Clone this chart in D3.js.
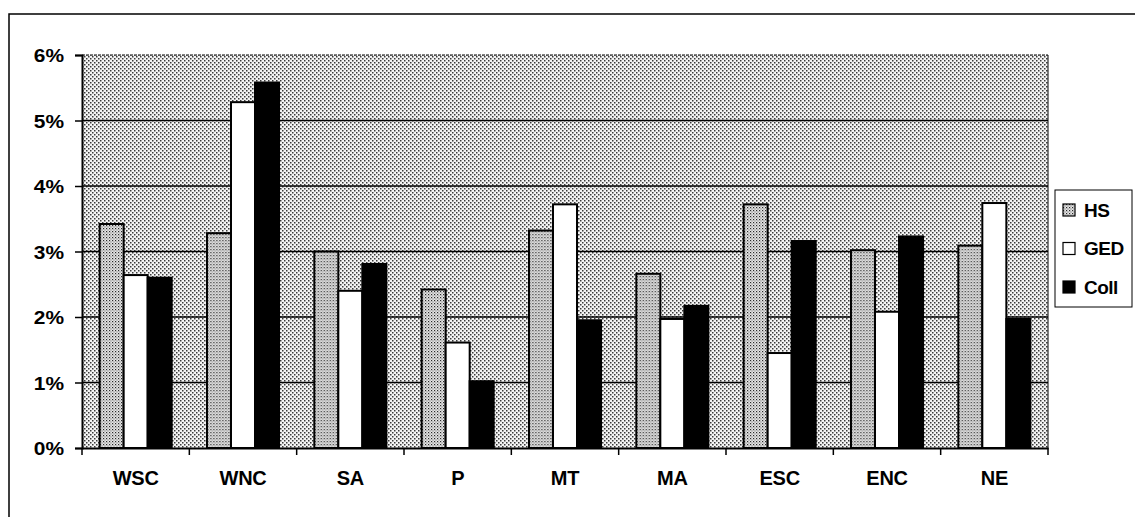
<!DOCTYPE html>
<html>
<head>
<meta charset="utf-8">
<script src="https://cdn.jsdelivr.net/npm/d3@7"></script>
<style>
  html, body { margin: 0; padding: 0; background: #fff; }
  svg { display: block; }
  text { font-family: "Liberation Sans", Arial, sans-serif; fill: #000; }
</style>
</head>
<body>
<svg id="chart" width="1135" height="517"></svg>
<script>
const categories = ["WSC", "WNC", "SA", "P", "MT", "MA", "ESC", "ENC", "NE"];
const seriesNames = ["HS", "GED", "Coll"];
const hsValues   = [3.42, 3.28, 3.00, 2.42, 3.32, 2.66, 3.72, 3.02, 3.09];
const gedValues  = [2.64, 5.28, 2.40, 1.61, 3.72, 1.97, 1.45, 2.08, 3.74];
const collValues = [2.60, 5.58, 2.81, 1.02, 1.95, 2.17, 3.16, 3.23, 1.97];
const yTicks = [0, 1, 2, 3, 4, 5, 6];
const yTickLabels = ["0%", "1%", "2%", "3%", "4%", "5%", "6%"];

(function () {
const seriesValues = [hsValues, gedValues, collValues];
const svg = d3.select("#chart");
const FONT = "Liberation Sans, Arial, sans-serif";

// patterns
const defs = svg.append("defs");
const bgPat = defs.append("pattern").attr("id", "bgPat").attr("patternUnits", "userSpaceOnUse")
  .attr("width", 4).attr("height", 4);
bgPat.append("rect").attr("width", 4).attr("height", 4).attr("fill", "#f4f4f4");
bgPat.append("rect").attr("x", 0).attr("y", 0).attr("width", 1.5).attr("height", 1.5).attr("fill", "#3a3a3a");
bgPat.append("rect").attr("x", 2).attr("y", 2).attr("width", 1.5).attr("height", 1.5).attr("fill", "#3a3a3a");

const hsPat = defs.append("pattern").attr("id", "hsPat").attr("patternUnits", "userSpaceOnUse")
  .attr("width", 3).attr("height", 3);
hsPat.append("rect").attr("width", 3).attr("height", 3).attr("fill", "#e6e6e6");
hsPat.append("rect").attr("x", 0).attr("y", 0).attr("width", 1.2).attr("height", 1.2).attr("fill", "#2a2a2a");
hsPat.append("rect").attr("x", 1.5).attr("y", 1.5).attr("width", 1).attr("height", 1).attr("fill", "#555");

const fills = { HS: "url(#hsPat)", GED: "#ffffff", Coll: "#000000" };

// outer frame
svg.append("rect").attr("x", 9).attr("y", 14).attr("width", 1140).attr("height", 520)
  .attr("fill", "none").attr("stroke", "#000").attr("stroke-width", 1.5);

const pLeft = 82, pRight = 1048, pTop = 55, pBottom = 448;

const x0 = d3.scaleBand().domain(categories).range([pLeft, pRight]).padding(0);
const x1 = d3.scaleBand().domain(seriesNames).range([0, x0.bandwidth()]).paddingInner(0).paddingOuter(0.735);
const y = d3.scaleLinear().domain([0, 6]).range([pBottom, pTop]);

// plot background
svg.append("rect").attr("x", pLeft).attr("y", pTop).attr("width", pRight - pLeft).attr("height", pBottom - pTop)
  .attr("fill", "url(#bgPat)");
svg.append("line").attr("x1", pLeft).attr("x2", pRight).attr("y1", pTop).attr("y2", pTop)
  .attr("stroke", "#000").attr("stroke-width", 1).attr("stroke-dasharray", "3,1");
svg.append("line").attr("x1", pRight).attr("x2", pRight).attr("y1", pTop).attr("y2", pBottom)
  .attr("stroke", "#000").attr("stroke-width", 1);

// gridlines
svg.append("g").selectAll("line").data(yTicks.filter(d => d > 0 && d < 6)).join("line")
  .attr("x1", pLeft).attr("x2", pRight)
  .attr("y1", d => y(d)).attr("y2", d => y(d))
  .attr("stroke", "#000").attr("stroke-width", 1.6);

// bars
const groups = svg.append("g").selectAll("g").data(categories).join("g")
  .attr("transform", d => `translate(${x0(d)},0)`);
groups.selectAll("rect").data((d, i) => seriesNames.map((s, j) => ({ s, v: seriesValues[j][i] }))).join("rect")
  .attr("x", d => x1(d.s))
  .attr("width", x1.bandwidth())
  .attr("y", d => y(d.v))
  .attr("height", d => y(0) - y(d.v))
  .attr("fill", d => fills[d.s])
  .attr("stroke", "#000").attr("stroke-width", 2);

// y axis
const ySx = 1.1;
const yAxis = svg.append("g").attr("transform", `translate(${pLeft},0)`)
  .call(d3.axisLeft(y).tickValues(yTicks).tickFormat((d, i) => yTickLabels[i]).tickSize(7).tickPadding(6));
yAxis.select(".domain").attr("stroke-width", 2);
yAxis.selectAll(".tick line").attr("stroke-width", 1.5);
yAxis.selectAll("text")
  .attr("font-size", 19).attr("font-weight", "bold").attr("font-family", FONT)
  .attr("x", -18 / ySx).attr("dy", "0.36em")
  .attr("transform", `scale(${ySx},1)`);

// x axis
const xAxis = svg.append("g").attr("transform", `translate(0,${pBottom})`)
  .call(d3.axisBottom(x0).tickSize(0).tickPadding(18));
xAxis.select(".domain").attr("stroke-width", 2);
xAxis.selectAll(".tick text")
  .attr("font-size", 20).attr("font-weight", "bold").attr("font-family", FONT)
  .attr("letter-spacing", "-0.3px")
  .attr("y", 37).attr("dy", null);
const bounds = categories.map(c => x0(c)).concat([pRight]);
xAxis.append("g").selectAll("line").data(bounds).join("line")
  .attr("x1", d => d).attr("x2", d => d).attr("y1", 0).attr("y2", 7)
  .attr("stroke", "#000").attr("stroke-width", 1.5);

// legend
const lg = svg.append("g").attr("transform", "translate(1055,190)");
lg.append("rect").attr("width", 77).attr("height", 117).attr("fill", "#fff")
  .attr("stroke", "#000").attr("stroke-width", 1);
const items = lg.selectAll("g.item").data(seriesNames).join("g").attr("class", "item")
  .attr("transform", (d, i) => `translate(8,${20 + i * 38.5})`);
items.append("rect").attr("x", 0).attr("y", -6).attr("width", 12).attr("height", 12)
  .attr("fill", d => fills[d]).attr("stroke", "#000").attr("stroke-width", 1.2);
items.append("text").attr("x", 21).attr("y", 0).attr("dy", "0.36em")
  .attr("font-size", 19).attr("font-weight", "bold").attr("letter-spacing", "-0.5px").text(d => d);
})();
</script>
</body>
</html>
